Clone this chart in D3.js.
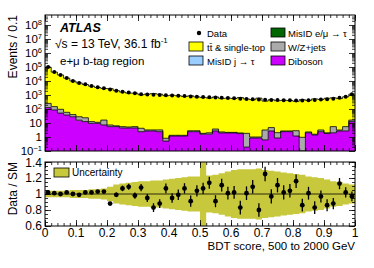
<!DOCTYPE html>
<html>
<head>
<meta charset="utf-8">
<script src="https://cdn.jsdelivr.net/npm/d3@7"></script>
<style>
body { margin: 0; background: #fff; }
text { font-family: "Liberation Sans", Arial, Helvetica, sans-serif; fill: #000; }
</style>
</head>
<body>
<svg id="chart" width="374" height="268"></svg>
<script>
// BDT score histogram, 50 bins of 0.02
const binWidth = 0.02

const data = [100000, 43600, 26900, 16200, 10000, 7240, 5750, 4370, 3550, 3020,
    2510, 2040, 1740, 1480, 1320, 1120, 1100, 1050, 1000, 955,
    912, 871, 832, 794, 759, 724, 692, 661, 631, 603,
    575, 550, 525, 501, 479, 457, 447, 437, 427, 417,
    407, 398, 417, 437, 468, 501, 550, 631, 759, 1120]

const ttbar = [97600, 43050, 26800, 15840, 9960, 7280, 5620, 4270, 3440, 2910,
    2840, 2050, 1620, 1355, 1345, 1035, 1157, 1262, 1133, 892,
    959, 879, 777, 870, 727, 675, 605, 722, 566, 595,
    562, 661, 518, 459, 598, 363, 456, 392, 416, 398,
    348, 462, 411, 525, 479, 581, 620, 555, 739, 1139]

const wzjets = [125, 63, 44, 21, 12, 12, 11, 3.1, 1.7, 9,
    1.7, 0.8, 1.1, 0.8, 1.1, 1.8, 0.5, 0.5, 0.8, 0.3,
    0.15, 0.15, 0.15, 0.4, 0.4, 0.22, 0.4, 1.0, 0.35, 0.19,
    0.19, 0.21, 1.63, 0.15, 0.15, 2.54, 2.0, 1.19, 0.3, 0.3,
    1.65, 0.9, 0.3, 0.18, 0.76, 0.2, 3.5, 0.46, 2.8, 3.6]

const diboson = [126, 85, 51, 37, 28, 16, 12.6, 9.5, 9.5, 7.2,
    5.5, 5.5, 4.4, 4.4, 4.4, 2.4, 2.7, 2.7, 2.4, 0.51,
    1.17, 1.17, 1.17, 2.4, 2.4, 1.6, 1.6, 2.7, 1.95, 1.95,
    1.95, 1.74, 0.19, 0.85, 0.85, 0.62, 2.7, 0.85, 2.4, 2.4,
    1.17, 0.05, 2.0, 1.4, 2.4, 1.8, 2.0, 2.7, 2.7, 12.6]

const ratio = [1.02, 1.01, 1.0, 1.02, 1.0, 0.99, 1.02, 1.02, 1.03, 1.03,
    0.88, 0.99, 1.07, 1.09, 0.98, 1.08, 0.95, 0.83, 0.88, 1.07,
    0.95, 0.99, 1.07, 0.91, 1.04, 1.07, 1.14, 0.91, 1.11, 1.01,
    1.02, 0.83, 1.01, 1.09, 0.80, 1.25, 0.97, 1.11, 1.02, 1.04,
    1.16, 0.86, 1.01, 0.83, 0.97, 0.86, 0.88, 1.13, 1.02, 0.97]

const ratioErr = [0.01, 0.01, 0.01, 0.01, 0.012, 0.014, 0.015, 0.017, 0.018, 0.02,
    0.022, 0.028, 0.035, 0.038, 0.04, 0.045, 0.05, 0.055, 0.055, 0.06,
    0.06, 0.065, 0.065, 0.07, 0.07, 0.07, 0.075, 0.075, 0.08, 0.08,
    0.08, 0.085, 0.085, 0.085, 0.085, 0.09, 0.09, 0.09, 0.09, 0.085,
    0.085, 0.08, 0.08, 0.08, 0.075, 0.075, 0.07, 0.07, 0.065, 0.06]

const uncert = [0.04, 0.04, 0.04, 0.04, 0.05, 0.05, 0.05, 0.06, 0.06, 0.07,
    0.09, 0.12, 0.13, 0.14, 0.15, 0.16, 0.16, 0.17, 0.17, 0.18,
    0.19, 0.2, 0.21, 0.22, 0.22, 0.5, 0.23, 0.24, 0.26, 0.28,
    0.3, 0.31, 0.31, 0.31, 0.32, 0.3, 0.29, 0.28, 0.27, 0.26,
    0.25, 0.24, 0.22, 0.21, 0.2, 0.18, 0.16, 0.15, 0.13, 0.12]

const logTicks = [0.1, 1, 10, 1e2, 1e3, 1e4, 1e5, 1e6, 1e7, 1e8]
const ratioTicks = [0.6, 0.8, 1, 1.2, 1.4]
const xTicks = [0, 0.1, 0.2, 0.3, 0.4, 0.5, 0.6, 0.7, 0.8, 0.9, 1]

const colors = {
    ttbar: '#ffff00',
    misidJ: '#99ccff',
    misidE: '#006600',
    wzjets: '#aaaaaa',
    diboson: '#cc00ff',
    band: '#c8c83c'
}

const left = 45, right = 355
const top1 = 15, bot1 = 151
const top2 = 162, bot2 = 226

const xScale = d3.scaleLinear().domain([0, 1]).range([left, right])
const yScale = d3.scaleLog().domain([0.1, Math.pow(10, 8.714)]).range([bot1, top1]).clamp(true)
const rScale = d3.scaleLinear().domain([0.6, 1.4]).range([bot2, top2])

const svg = d3.select('#chart')

svg.append('clipPath').attr('id', 'clipTop')
    .append('rect').attr('x', left).attr('y', top1).attr('width', right - left).attr('height', bot1 - top1)
svg.append('clipPath').attr('id', 'clipRat')
    .append('rect').attr('x', left).attr('y', top2).attr('width', right - left).attr('height', bot2 - top2)

// step helper: two points per bin
const stepPts = arr => arr.flatMap((d, i) => [{ i, e: i, d }, { i, e: i + 1, d }])

// stacked histograms
const rows = data.map((d, i) => ({ diboson: diboson[i], wzjets: wzjets[i], ttbar: ttbar[i] }))
const stack = d3.stack().keys(['diboson', 'wzjets', 'ttbar'])(rows)

const gTop = svg.append('g').attr('clip-path', 'url(#clipTop)')

const area = d3.area()
    .x(p => xScale(p.e * binWidth))
    .y0(p => yScale(Math.max(p.d[0], 0.01)))
    .y1(p => yScale(Math.max(p.d[1], 0.01)))
const outline = d3.line()
    .x(p => xScale(p.e * binWidth))
    .y(p => yScale(Math.max(p.d[1], 0.01)))

stack.forEach(layer => {
    const pts = stepPts(Array.from(layer))
    gTop.append('path').attr('d', area(pts)).attr('fill', colors[layer.key])
})
stack.forEach(layer => {
    const pts = stepPts(Array.from(layer))
    gTop.append('path').attr('d', outline(pts))
        .attr('fill', 'none').attr('stroke', '#000').attr('stroke-width', 0.8)
})

gTop.selectAll('.dot')
    .data(data)
    .enter().append('circle')
    .attr('class', 'dot')
    .attr('cx', (d, i) => xScale((i + 0.5) * binWidth))
    .attr('cy', d => yScale(d))
    .attr('r', 2)
    .attr('fill', '#000')

// ratio panel
const gRat = svg.append('g').attr('clip-path', 'url(#clipRat)')

const band = d3.area()
    .x(p => xScale(p.e * binWidth))
    .y0(p => rScale(1 - p.d))
    .y1(p => rScale(1 + p.d))
gRat.append('path').attr('d', band(stepPts(uncert))).attr('fill', colors.band)

gRat.append('line')
    .attr('x1', left).attr('x2', right)
    .attr('y1', rScale(1)).attr('y2', rScale(1))
    .attr('stroke', '#000').attr('stroke-width', 0.8)

gRat.selectAll('.err')
    .data(ratio)
    .enter().append('line')
    .attr('class', 'err')
    .attr('x1', (d, i) => xScale((i + 0.5) * binWidth))
    .attr('x2', (d, i) => xScale((i + 0.5) * binWidth))
    .attr('y1', (d, i) => rScale(d - ratioErr[i]))
    .attr('y2', (d, i) => rScale(d + ratioErr[i]))
    .attr('stroke', '#000').attr('stroke-width', 1.3)

gRat.selectAll('.rdot')
    .data(ratio)
    .enter().append('circle')
    .attr('class', 'rdot')
    .attr('cx', (d, i) => xScale((i + 0.5) * binWidth))
    .attr('cy', d => rScale(d))
    .attr('r', 2.4)
    .attr('fill', '#000')

// frames
;[[top1, bot1], [top2, bot2]].forEach(([t, b]) => {
    svg.append('rect').attr('x', left).attr('y', t).attr('width', right - left).attr('height', b - t)
        .attr('fill', 'none').attr('stroke', '#000').attr('stroke-width', 1)
})

// inward ticks
const tickG = (axis, tx, ty, scale, values, size) => {
    svg.append('g').attr('transform', `translate(${tx},${ty})`)
        .call(axis(scale).tickValues(values).tickSize(-size).tickFormat(''))
        .call(g => g.select('.domain').remove())
        .selectAll('line').attr('stroke', '#000').attr('stroke-width', 0.8)
}

const xMinor = d3.range(51).map(i => i / 50)
;[[top1, bot1], [top2, bot2]].forEach(([t, b]) => {
    tickG(d3.axisBottom, 0, b, xScale, xTicks, 6)
    tickG(d3.axisTop, 0, t, xScale, xTicks, 6)
    tickG(d3.axisBottom, 0, b, xScale, xMinor, 3)
    tickG(d3.axisTop, 0, t, xScale, xMinor, 3)
})

const logMinor = []
logTicks.forEach(v => d3.range(2, 10).forEach(m => { if (v * m < 5e8) logMinor.push(v * m) }))
tickG(d3.axisLeft, left, 0, yScale, logTicks, 6)
tickG(d3.axisRight, right, 0, yScale, logTicks, 6)
tickG(d3.axisLeft, left, 0, yScale, logMinor, 3)
tickG(d3.axisRight, right, 0, yScale, logMinor, 3)

const rMinor = d3.range(17).map(i => 0.6 + i * 0.05)
tickG(d3.axisLeft, left, 0, rScale, ratioTicks, 6)
tickG(d3.axisRight, right, 0, rScale, ratioTicks, 6)
tickG(d3.axisLeft, left, 0, rScale, rMinor, 3)
tickG(d3.axisRight, right, 0, rScale, rMinor, 3)

// tick labels
const fs = 12
logTicks.forEach(v => {
    const k = Math.round(Math.log10(v))
    const t = svg.append('text').attr('x', left - 3).attr('y', yScale(v) + (k < 0 ? 3.5 : 4))
        .attr('text-anchor', 'end').style('font-size', '11.5px')
    if (k === 0) t.text('1')
    else if (k === 1) t.text('10')
    else {
        t.append('tspan').text('10')
        t.append('tspan').attr('dy', -4).style('font-size', '7.5px').text(k < 0 ? '\u22121' : k)
    }
})

ratioTicks.forEach(v => {
    svg.append('text').attr('x', left - 3).attr('y', rScale(v) + (v === 1.4 ? 5 : 4))
        .attr('text-anchor', 'end').style('font-size', fs + 'px')
        .text(v === 1 ? '1' : v.toFixed(1))
})

xTicks.forEach(v => {
    svg.append('text').attr('x', xScale(v)).attr('y', bot2 + 11)
        .attr('text-anchor', 'middle').style('font-size', fs + 'px')
        .text(v === 0 ? '0' : v === 1 ? '1' : v.toFixed(1))
})

// axis titles
svg.append('text').attr('transform', `translate(17,${top1}) rotate(-90)`)
    .attr('text-anchor', 'end').style('font-size', '12px').text('Events / 0.1')
svg.append('text').attr('transform', `translate(17,${top2}) rotate(-90)`)
    .attr('text-anchor', 'end').style('font-size', '12px').text('Data / SM')
svg.append('text').attr('x', right).attr('y', 250)
    .attr('text-anchor', 'end').style('font-size', '11.5px').text('BDT score, 500 to 2000 GeV')

// ATLAS labels
svg.append('text').attr('x', 60).attr('y', 32)
    .style('font-size', '12.5px').style('font-weight', 'bold').style('font-style', 'italic').text('ATLAS')
const lumi = svg.append('text').attr('x', 55).attr('y', 48).style('font-size', '12px')
lumi.append('tspan').text('\u221As = 13 TeV, 36.1 fb')
lumi.append('tspan').attr('dy', -5).style('font-size', '8px').text('-1')
svg.append('text').attr('x', 60).attr('y', 65).style('font-size', '11.5px').text('e+\u03bc b-tag region')

// legend
const legendItems = [
    { label: 'Data', col: 0, row: 0, type: 'dot' },
    { label: 'tt\u0304 & single-top', col: 0, row: 1, color: colors.ttbar },
    { label: 'MisID j \u2192 \u03c4', col: 0, row: 2, color: colors.misidJ },
    { label: 'MisID e/\u03bc \u2192 \u03c4', col: 1, row: 0, color: colors.misidE },
    { label: 'W/Z+jets', col: 1, row: 1, color: colors.wzjets },
    { label: 'Diboson', col: 1, row: 2, color: colors.diboson }
]
const legend = svg.selectAll('.legend')
    .data(legendItems)
    .enter().append('g')
    .attr('class', 'legend')
    .attr('transform', d => `translate(${d.col ? 271 : 189},${28 + d.row * 14})`)

legend.filter(d => d.type === 'dot').append('circle')
    .attr('cx', 10).attr('cy', 5).attr('r', 2.2).attr('fill', '#000')
legend.filter(d => d.type !== 'dot').append('rect')
    .attr('width', 14).attr('height', 9)
    .attr('fill', d => d.color).attr('stroke', '#000').attr('stroke-width', 0.8)
legend.append('text')
    .attr('x', d => d.col ? 17 : 18).attr('y', 8.5)
    .style('font-size', '9.5px').text(d => d.label)

svg.append('rect').attr('x', 54).attr('y', 168).attr('width', 15).attr('height', 9)
    .attr('fill', colors.band).attr('stroke', '#000').attr('stroke-width', 0.8)
svg.append('text').attr('x', 72).attr('y', 176).style('font-size', '10px').text('Uncertainty')
</script>
</body>
</html>
